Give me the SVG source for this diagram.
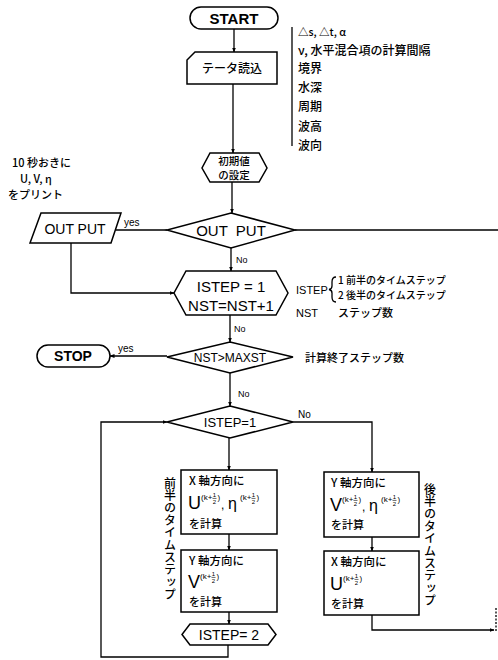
<svg xmlns="http://www.w3.org/2000/svg" width="498" height="660" viewBox="0 0 498 660">
<style>
  .bg{fill:#fff}
  .sh{fill:#fff;stroke:#000;stroke-width:1.5}
  .ln{fill:none;stroke:#000;stroke-width:1.3}
  .lat{font-family:"Liberation Sans",Arial,sans-serif;fill:#000}
  .jp{font-family:"Noto Sans CJK JP","Noto Sans CJK SC",sans-serif;fill:#000;font-weight:500}
  .sup{font-family:"Liberation Sans",Arial,sans-serif;font-size:8px;fill:#000}
  .fr{font-family:"Liberation Sans",Arial,sans-serif;font-size:6px;fill:#000;text-anchor:middle}
  .fb{stroke:#000;stroke-width:0.6}
  .c{text-anchor:middle}
  .vt{writing-mode:vertical-rl;font-family:"Noto Sans CJK JP","Noto Sans CJK SC",sans-serif;font-size:12px;font-weight:500;fill:#000;letter-spacing:0.4px}
</style>
<defs>
  <marker id="ah" viewBox="0 0 10 10" refX="9" refY="5" markerWidth="5" markerHeight="5" orient="auto" markerUnits="userSpaceOnUse">
    <path d="M0,1 L10,5 L0,9 Z" fill="#000"/>
  </marker>
</defs>
<rect class="bg" x="0" y="0" width="498" height="660"/>

<g id="connectors">
  <line class="ln" x1="234" y1="29" x2="234" y2="52" marker-end="url(#ah)"/>
  <line class="ln" x1="233" y1="84" x2="233" y2="153" marker-end="url(#ah)"/>
  <line class="ln" x1="232" y1="182" x2="232" y2="213" marker-end="url(#ah)"/>
  <line class="ln" x1="295" y1="230" x2="498" y2="230"/>
  <line class="ln" x1="167" y1="230" x2="116" y2="230"/>
  <polyline class="ln" points="71,243 71,293 174,293" marker-end="url(#ah)"/>
  <line class="ln" x1="231" y1="248" x2="231" y2="271" marker-end="url(#ah)"/>
  <line class="ln" x1="230" y1="315" x2="230" y2="342" marker-end="url(#ah)"/>
  <line class="ln" x1="167" y1="356" x2="110" y2="356" marker-end="url(#ah)"/>
  <line class="ln" x1="230" y1="373" x2="230" y2="406" marker-end="url(#ah)"/>
  <polyline class="ln" points="293,422 372,422 372,472" marker-end="url(#ah)"/>
  <line class="ln" x1="229" y1="438" x2="229" y2="470" marker-end="url(#ah)"/>
  <line class="ln" x1="229" y1="534" x2="229" y2="550" marker-end="url(#ah)"/>
  <line class="ln" x1="229" y1="612" x2="229" y2="624" marker-end="url(#ah)"/>
  <polyline class="ln" points="228,645 228,657 101,657 101,422 167,422" marker-end="url(#ah)"/>
  <line class="ln" x1="372" y1="537" x2="372" y2="551" marker-end="url(#ah)"/>
  <polyline class="ln" points="372,615 372,630 494,630" marker-end="url(#ah)"/>
  <line class="ln" x1="496" y1="608" x2="496" y2="631" stroke-dasharray="2,1.5"/>
  <text class="lat" x="124" y="226" font-size="10">yes</text>
  <text class="lat" x="236" y="263" font-size="9">No</text>
  <text class="lat" x="234" y="332" font-size="9">No</text>
  <text class="lat" x="118" y="352" font-size="10">yes</text>
  <text class="lat" x="238" y="397" font-size="9">No</text>
  <text class="lat" x="298" y="418" font-size="10">No</text>
</g>

<g id="start">
  <rect class="sh" x="190" y="7" width="88" height="22" rx="11"/>
  <text class="lat c" x="234" y="23.5" font-size="15" font-weight="bold">START</text>
</g>

<g id="data-read">
  <path class="sh" d="M195,52 H277 V84 H187 V60 Z"/>
  <text class="jp c" x="232" y="73" font-size="12">テータ読込</text>
</g>

<g id="data-notes">
  <line class="ln" x1="292" y1="27" x2="292" y2="146" stroke-width="1"/>
  <text class="jp" x="298" y="36" font-size="10.5">△s, △t, α</text>
  <text class="jp" x="298" y="55" font-size="12">ν, 水平混合項の計算間隔</text>
  <text class="jp" x="298" y="73" font-size="12">境界</text>
  <text class="jp" x="298" y="92" font-size="12">水深</text>
  <text class="jp" x="298" y="111" font-size="12">周期</text>
  <text class="jp" x="298" y="131" font-size="12">波高</text>
  <text class="jp" x="298" y="150" font-size="12">波向</text>
</g>

<g id="init">
  <path class="sh" d="M210,153 H259 L267,168 L259,182 H210 L202,168 Z"/>
  <text class="jp c" x="234" y="165" font-size="10.5">初期値</text>
  <text class="jp c" x="234" y="179" font-size="10.5">の設定</text>
</g>

<g id="output-decision">
  <path class="sh" d="M231,213 L295,230 L231,248 L167,230 Z"/>
  <text class="lat c" x="231" y="236" font-size="15" xml:space="preserve">OUT  PUT</text>
</g>

<g id="print-note">
  <text class="jp" x="12" y="167" font-size="11">10 秒おきに</text>
  <text class="jp" x="20" y="183" font-size="11">U, V, η</text>
  <text class="jp" x="8" y="199" font-size="11">をプリント</text>
</g>

<g id="output">
  <path class="sh" d="M41,213 H121 L111,243 H30 Z"/>
  <text class="lat c" x="75" y="234" font-size="14">OUT PUT</text>
</g>

<g id="istep-init">
  <path class="sh" d="M186,271 H276 L288,293 L276,315 H186 L174,293 Z"/>
  <text class="lat c" x="231" y="292" font-size="15">ISTEP = 1</text>
  <text class="lat c" x="231" y="311" font-size="15">NST=NST+1</text>
</g>

<g id="istep-notes">
  <text class="lat" x="296" y="294" font-size="11">ISTEP</text>
  <path class="ln" stroke-width="1" d="M336,277 Q332,277 332,282 V286 Q332,289 329,289.5 Q332,290 332,293 V297 Q332,302 336,302"/>
  <text class="jp" x="338" y="284" font-size="10">1  前半のタイムステップ</text>
  <text class="jp" x="338" y="299" font-size="10">2  後半のタイムステップ</text>
  <text class="lat" x="296" y="317" font-size="11">NST</text>
  <text class="jp" x="338" y="317" font-size="11">ステップ数</text>
</g>

<g id="nst-decision">
  <path class="sh" d="M230,342 L293,357 L230,373 L167,357 Z"/>
  <text class="lat c" x="230" y="361.5" font-size="12">NST&gt;MAXST</text>
  <text class="jp" x="305" y="362" font-size="11">計算終了ステップ数</text>
</g>

<g id="stop">
  <rect class="sh" x="37" y="345" width="73" height="22" rx="11"/>
  <text class="lat c" x="73" y="361" font-size="14" font-weight="bold">STOP</text>
</g>

<g id="istep-decision">
  <path class="sh" d="M230,406 L293,422 L230,438 L167,422 Z"/>
  <text class="lat c" x="230" y="427" font-size="13">ISTEP=1</text>
</g>

<g id="first-x">
  <rect class="sh" x="181" y="470" width="96" height="64"/>
  <text class="jp" x="189" y="485" font-size="11.5">X 軸方向に</text>
  <text class="lat" x="188" y="509" font-size="18">U</text>
  <g transform="translate(201,500)">
    <text class="sup" x="0" y="0">(k+</text>
    <text class="fr" x="13.5" y="-3">1</text>
    <line class="fb" x1="11.5" y1="-1.6" x2="15.5" y2="-1.6"/>
    <text class="fr" x="13.5" y="4">2</text>
    <text class="sup" x="16.5" y="0">)</text>
  </g>
  <text class="lat" x="221" y="509" font-size="12">,</text>
  <text class="lat" x="228" y="509" font-size="16">η</text>
  <g transform="translate(240,500)">
    <text class="sup" x="0" y="0">(k+</text>
    <text class="fr" x="13.5" y="-3">1</text>
    <line class="fb" x1="11.5" y1="-1.6" x2="15.5" y2="-1.6"/>
    <text class="fr" x="13.5" y="4">2</text>
    <text class="sup" x="16.5" y="0">)</text>
  </g>
  <text class="jp" x="189" y="528" font-size="11">を計算</text>
</g>

<g id="first-y">
  <rect class="sh" x="181" y="550" width="96" height="62"/>
  <text class="jp" x="189" y="565" font-size="11.5">Y 軸方向に</text>
  <text class="lat" x="188" y="588" font-size="18">V</text>
  <g transform="translate(200,579)">
    <text class="sup" x="0" y="0">(k+</text>
    <text class="fr" x="13.5" y="-3">1</text>
    <line class="fb" x1="11.5" y1="-1.6" x2="15.5" y2="-1.6"/>
    <text class="fr" x="13.5" y="4">2</text>
    <text class="sup" x="16.5" y="0">)</text>
  </g>
  <text class="jp" x="189" y="606" font-size="11">を計算</text>
</g>

<g id="istep-set2">
  <path class="sh" d="M190,624 H268 L276,634.5 L268,645 H190 L182,634.5 Z"/>
  <text class="lat c" x="229" y="640" font-size="14">ISTEP= 2</text>
</g>

<g id="second-y">
  <rect class="sh" x="324" y="472" width="95" height="65"/>
  <text class="jp" x="331" y="487" font-size="11.5">Y 軸方向に</text>
  <text class="lat" x="330" y="511" font-size="18">V</text>
  <g transform="translate(342,502)">
    <text class="sup" x="0" y="0">(k+</text>
    <text class="fr" x="13.5" y="-3">1</text>
    <line class="fb" x1="11.5" y1="-1.6" x2="15.5" y2="-1.6"/>
    <text class="fr" x="13.5" y="4">2</text>
    <text class="sup" x="16.5" y="0">)</text>
  </g>
  <text class="lat" x="362" y="511" font-size="12">,</text>
  <text class="lat" x="369" y="511" font-size="16">η</text>
  <g transform="translate(381,502)">
    <text class="sup" x="0" y="0">(k+</text>
    <text class="fr" x="13.5" y="-3">1</text>
    <line class="fb" x1="11.5" y1="-1.6" x2="15.5" y2="-1.6"/>
    <text class="fr" x="13.5" y="4">2</text>
    <text class="sup" x="16.5" y="0">)</text>
  </g>
  <text class="jp" x="331" y="529" font-size="11">を計算</text>
</g>

<g id="second-x">
  <rect class="sh" x="324" y="551" width="95" height="64"/>
  <text class="jp" x="331" y="566" font-size="11.5">X 軸方向に</text>
  <text class="lat" x="330" y="590" font-size="18">U</text>
  <g transform="translate(343,581)">
    <text class="sup" x="0" y="0">(k+</text>
    <text class="fr" x="13.5" y="-3">1</text>
    <line class="fb" x1="11.5" y1="-1.6" x2="15.5" y2="-1.6"/>
    <text class="fr" x="13.5" y="4">2</text>
    <text class="sup" x="16.5" y="0">)</text>
  </g>
  <text class="jp" x="331" y="608" font-size="11">を計算</text>
</g>

<g id="labels-vertical">
  <text class="vt" x="170" y="477">前半のタイムステップ</text>
  <text class="vt" x="430" y="483">後半のタイムステップ</text>
</g>
</svg>
